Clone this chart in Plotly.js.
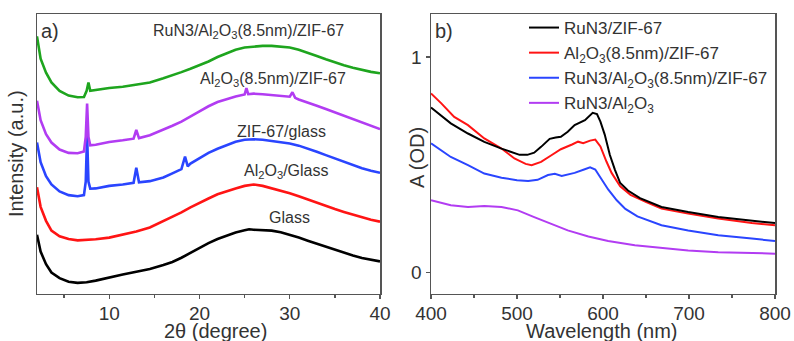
<!DOCTYPE html>
<html><head><meta charset="utf-8">
<script src="https://cdn.plot.ly/plotly-3.0.1.min.js"></script>
<style>html,body{margin:0;padding:0;background:#fff}#chart{width:794px;height:341px}</style>
</head><body><div id="chart"></div>
<script>
// ---------- Panel a: XRD (offset, arbitrary units) ----------
const glassX = [2.0,2.4,3.0,3.6,4.5,5.5,6.5,7.5,8.5,10,11.5,13,14.5,16,17,18,19,20,21,22,23,24,25,25.5,26,27,28,29,30,31,32,33,34,35,36,37,38,39,40];
const glassY = [21,15,10.5,7.5,5.5,4.2,3.8,4.0,4.6,5.8,6.8,7.8,8.8,10.2,11.3,12.8,14.6,16.3,18.0,19.5,20.6,21.8,22.6,23.0,22.8,22.7,22.5,21.9,21.0,20.0,18.9,17.8,16.7,15.6,14.6,13.6,12.7,12.0,11.5];

const alGlassX = [2.0,2.4,3.0,3.6,4.5,5.5,6.5,7.5,8.5,10,11.5,13,14.5,16,17,18,19,20,21,22,23,24,25,26,27,28,29,30,31,32,33,34,35,36,37,38,39,40];
const alGlassY = [38,31,26,22.5,20.5,19.5,19.0,19.1,19.4,20.0,21.0,22.2,23.6,25.8,27.3,29.0,30.8,32.5,34.0,35.5,36.6,37.6,38.5,39.0,38.5,37.7,36.8,35.9,34.8,33.6,32.4,31.3,30.2,29.2,28.2,27.2,26.4,25.7];

const zifGlassX = [2.0,2.4,3.0,3.6,4.5,5.5,6.5,7.2,7.4,7.55,7.7,7.9,8.5,10,11.5,12.7,13.0,13.3,14.5,16,17,18,18.4,18.7,19,20,21,22,23,24,25,26,27,28,29,30,31,32,33,34,35,36,37,38,39,40];
const zifGlassY = [54,47,42,39,36.5,35.2,34.8,35.2,40,57,40,37.5,37.6,38.5,39.0,39.6,45,39.8,40.2,41.5,43.0,44.5,49,45.5,46.5,48.5,50.3,51.8,53.0,54.3,55.0,55.2,55.0,54.6,54.2,53.7,52.9,51.9,50.7,49.5,48.3,47.1,45.9,44.8,43.9,43.2];

const alZifX = [2.0,2.4,3.0,3.6,4.5,5.5,6.5,7.2,7.4,7.55,7.7,7.9,8.5,10,11.5,12.7,13.0,13.3,14.5,16,17,18,19,20,21,22,23,24,25,25.2,25.4,26,27,28,29,30,30.3,30.6,31,32,33,34,35,36,37,38,39,40];
const alZifY = [69,62,57,54,51.5,50.3,50.2,50.8,56,68,56,53,53.2,54.2,54.8,55.4,58.5,55.6,56.6,58.5,60.0,61.5,63.2,65.2,67.0,68.5,69.5,70.5,71.2,73.5,71.3,71.5,71.3,71.0,70.7,70.4,72.0,70.0,69.4,68.4,67.2,66.0,64.8,63.5,62.3,61.0,59.8,58.8];

const ruAlZifX = [2.0,2.4,3.0,3.6,4.5,5.5,6.5,7.2,7.5,7.7,7.9,8.5,10,11.5,13,14.5,16,17,18,19,20,21,22,23,24,25,26,27,28,29,30,31,32,33,34,35,36,37,38,39,40];
const ruAlZifY = [92,84,79,75.5,72.5,70.8,70.2,70.3,72.5,75.5,72.5,72.8,73.5,74.0,74.8,75.5,77.0,78.0,79.2,80.4,81.6,83.0,84.6,86.0,87.2,88.0,88.4,88.6,88.6,88.4,88.0,87.2,86.2,85.0,83.8,82.7,81.7,80.8,80.0,79.3,78.8];

const xrdNames = ['Glass','Al<sub>2</sub>O<sub>3</sub>/Glass','ZIF-67/glass','Al<sub>2</sub>O<sub>3</sub>(8.5nm)/ZIF-67','RuN3/Al<sub>2</sub>O<sub>3</sub>(8.5nm)/ZIF-67'];
const xrdTicks = [10,20,30,40];

// ---------- Panel b: UV-vis absorbance ----------
const wlBlack = [400,423,443,462,482,503,512,520,528,538,545,551,559,567,579,588,593,597,602,608,614,620,629,643,668,699,734,773,800];
const aBlack  = [0.766,0.692,0.645,0.606,0.575,0.546,0.546,0.556,0.583,0.620,0.626,0.630,0.653,0.684,0.707,0.741,0.735,0.700,0.640,0.545,0.475,0.415,0.380,0.345,0.304,0.280,0.257,0.242,0.229];

const wlRed = [400,412,427,443,462,482,497,510,517,528,540,551,564,571,577,585,591,597,604,610,620,632,651,668,699,734,773,800];
const aRed  = [0.831,0.785,0.722,0.684,0.622,0.575,0.529,0.504,0.498,0.513,0.544,0.572,0.594,0.607,0.600,0.612,0.617,0.585,0.515,0.462,0.400,0.360,0.325,0.296,0.273,0.250,0.229,0.219];

const wlBlue = [400,423,443,462,482,500,513,524,536,544,552,567,578,585,591,597,606,616,626,640,668,699,734,773,800];
const aBlue  = [0.599,0.536,0.498,0.459,0.440,0.428,0.425,0.430,0.452,0.458,0.448,0.462,0.478,0.488,0.478,0.443,0.385,0.335,0.295,0.260,0.219,0.195,0.172,0.157,0.146];

const wlPurple = [400,423,443,462,482,501,520,540,559,583,606,637,668,699,734,773,800];
const aPurple  = [0.335,0.312,0.304,0.308,0.304,0.288,0.257,0.226,0.195,0.167,0.146,0.126,0.113,0.102,0.094,0.090,0.087];

const uvNames = ['RuN3/ZIF-67','Al<sub>2</sub>O<sub>3</sub>(8.5nm)/ZIF-67','RuN3/Al<sub>2</sub>O<sub>3</sub>(8.5nm)/ZIF-67','RuN3/Al<sub>2</sub>O<sub>3</sub>'];
const uvTicks = [400,500,600,700,800];
const absTicks = [0,1];

const C = {black:'#000000', red:'#ff1414', blue:'#2a45ff', purple:'#b23cf2', green:'#1ea51e'};
const FONT = 'Arial, "Liberation Sans", sans-serif';

const traces = [
  {x:glassX, y:glassY, name:xrdNames[0], line:{color:C.black,width:2.6}},
  {x:alGlassX, y:alGlassY, name:xrdNames[1], line:{color:C.red,width:2.6}},
  {x:zifGlassX, y:zifGlassY, name:xrdNames[2], line:{color:C.blue,width:2.6}},
  {x:alZifX, y:alZifY, name:xrdNames[3], line:{color:C.purple,width:2.6}},
  {x:ruAlZifX, y:ruAlZifY, name:xrdNames[4], line:{color:C.green,width:2.6}},
].map(t => Object.assign(t, {type:'scatter', mode:'lines', xaxis:'x', yaxis:'y', showlegend:false}));

const uv = [
  {x:wlPurple, y:aPurple, name:uvNames[3], line:{color:C.purple,width:2}, legendrank:4},
  {x:wlBlue, y:aBlue, name:uvNames[2], line:{color:C.blue,width:2}, legendrank:3},
  {x:wlRed, y:aRed, name:uvNames[1], line:{color:C.red,width:2}, legendrank:2},
  {x:wlBlack, y:aBlack, name:uvNames[0], line:{color:C.black,width:2}, legendrank:1},
].map(t => Object.assign(t, {type:'scatter', mode:'lines', xaxis:'x2', yaxis:'y2', showlegend:true}));

const frame = {showline:true, mirror:true, linecolor:'#555', linewidth:1.5, zeroline:false, showgrid:false,
  tickfont:{family:FONT,size:19,color:'#333'}, ticks:'outside', ticklen:4, tickcolor:'#555', tickwidth:1.3};

const W = 794, H = 341;
const titleFont = {family:FONT,size:20,color:'#333'};
const layout = {
  width:W, height:H, margin:{l:0,r:0,t:0,b:0}, paper_bgcolor:'#fff', plot_bgcolor:'#fff',
  font:{family:FONT, color:'#333'},
  showlegend:true,
  legend:{x:524/W, y:1-10/H, xanchor:'left', yanchor:'top', bgcolor:'rgba(0,0,0,0)',
    font:{family:FONT,size:17,color:'#333'}, traceorder:'normal', itemwidth:30, tracegroupgap:0},
  xaxis: Object.assign({}, frame, {domain:[37/W, 380/W], range:[2,40], tickvals:xrdTicks, anchor:'y', ticklabelstandoff:-2,
    minor:{dtick:5, tick0:0, ticks:'outside', ticklen:3, tickcolor:'#555'}, automargin:false}),
  yaxis: Object.assign({}, frame, {domain:[1-293.5/H, 1-14/H], range:[0,100], showticklabels:false, ticks:'', anchor:'x',
    title:{text:'Intensity (a.u.)', font:titleFont, standoff:6}, automargin:false}),
  xaxis2: Object.assign({}, frame, {domain:[431/W, 775/W], range:[400,800], tickvals:uvTicks, anchor:'y2', ticklabelstandoff:-2,
    minor:{dtick:50, tick0:400, ticks:'outside', ticklen:3, tickcolor:'#555'}, automargin:false}),
  yaxis2: Object.assign({}, frame, {domain:[1-293.5/H, 1-14/H], range:[-0.098,1.2], tickvals:absTicks, anchor:'x2', automargin:false}),
  annotations:[
    {xref:'paper', yref:'paper', x:39/W, y:1-31/H, xanchor:'left', yanchor:'middle', text:'a)', showarrow:false, font:titleFont},
    {xref:'paper', yref:'paper', x:433/W, y:1-31/H, xanchor:'left', yanchor:'middle', text:'b)', showarrow:false, font:titleFont},
    {xref:'x', yref:'y', x:25.4, y:93.7, text:xrdNames[4], showarrow:false, font:{family:FONT,size:16,color:'#333'}},
    {xref:'x', yref:'y', x:28.2, y:76.4, text:xrdNames[3], showarrow:false, font:{family:FONT,size:16,color:'#333'}},
    {xref:'x', yref:'y', x:29.1, y:58.0, text:xrdNames[2], showarrow:false, font:{family:FONT,size:16,color:'#333'}},
    {xref:'x', yref:'y', x:29.6, y:43.6, text:xrdNames[1], showarrow:false, font:{family:FONT,size:16,color:'#333'}},
    {xref:'x', yref:'y', x:30.0, y:27.1, text:xrdNames[0], showarrow:false, font:{family:FONT,size:16,color:'#333'}},
    {xref:'paper', yref:'paper', x:215/W, y:1-331/H, xanchor:'center', yanchor:'middle', text:'2θ (degree)', showarrow:false, font:titleFont},
    {xref:'paper', yref:'paper', x:602/W, y:1-331/H, xanchor:'center', yanchor:'middle', text:'Wavelength (nm)', showarrow:false, font:titleFont},
    {xref:'paper', yref:'paper', x:417/W, y:1-158/H, xanchor:'center', yanchor:'middle', text:'A (OD)', textangle:-90, showarrow:false, font:titleFont}
  ]
};

Plotly.newPlot('chart', traces.concat(uv), layout, {staticPlot:true, displayModeBar:false});
</script></body></html>
